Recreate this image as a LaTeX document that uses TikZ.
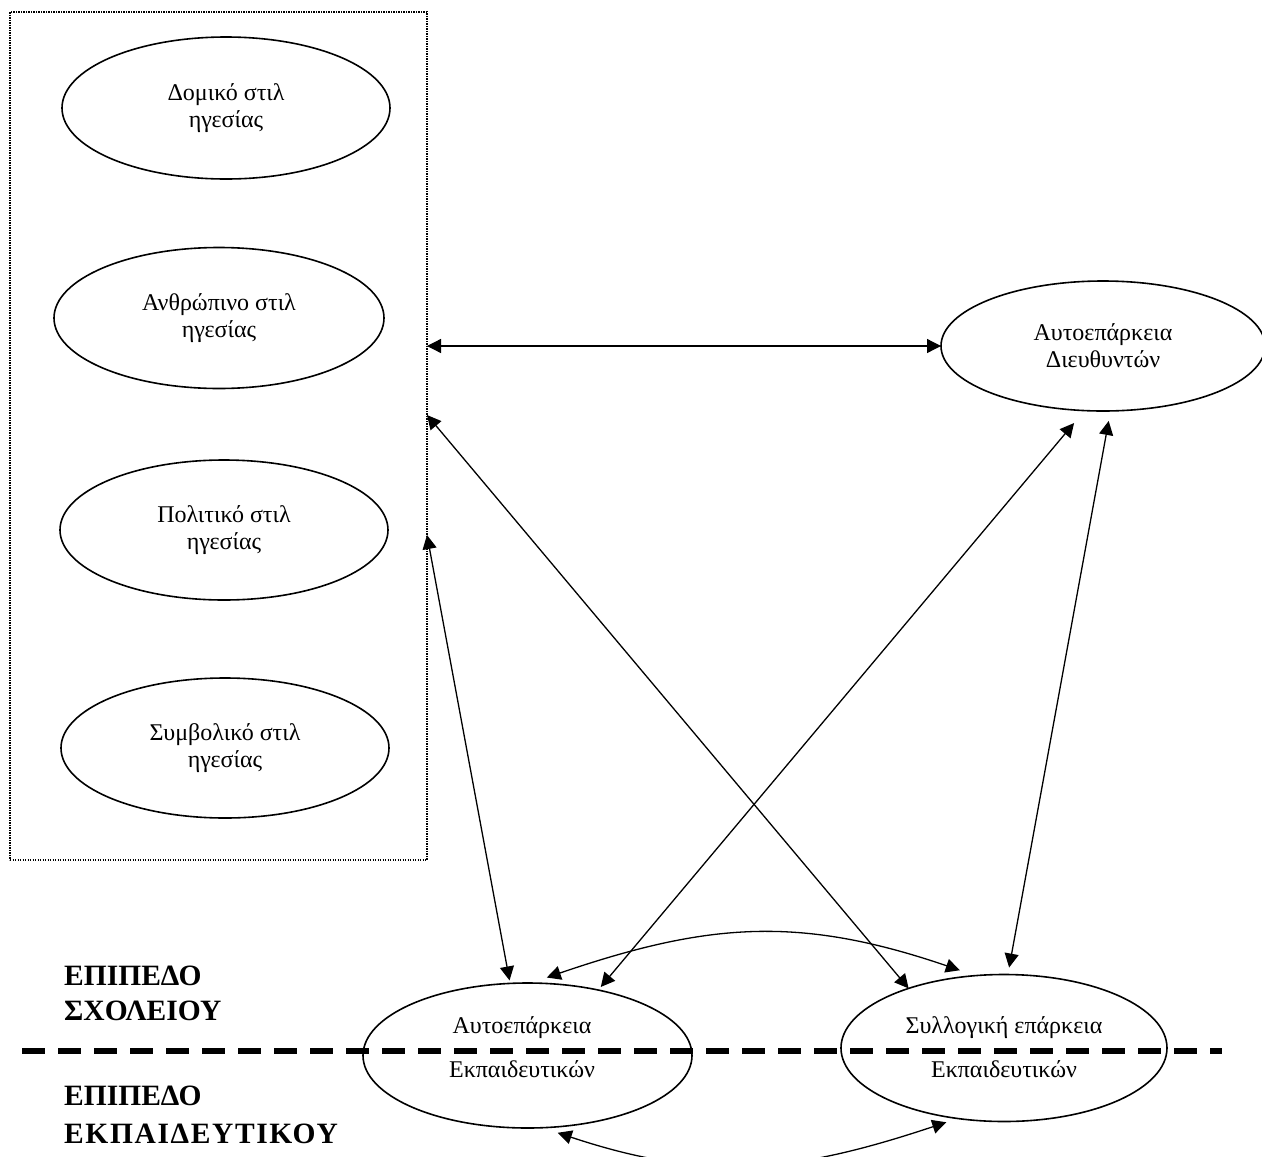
\documentclass[tikz,border=0pt]{standalone}
\usepackage{fontspec}
\setmainfont{Liberation Serif}
\usetikzlibrary{shapes.geometric, arrows.meta, calc}

\begin{document}
\begin{tikzpicture}[x=1pt, y=-1pt,
  oval/.style={ellipse, draw, line width=1.6pt, inner sep=0pt, outer sep=0pt,
    align=center, font=\fontsize{24}{27}\selectfont},
  txt/.style={anchor=base, inner sep=0pt, font=\fontsize{24}{27}\selectfont},
  link/.style={line width=1.3pt,
    {Triangle[length=14pt,width=14pt]}-{Triangle[length=14pt,width=14pt]}},
  level/.style={anchor=base west, inner sep=0pt, font=\fontsize{29.5}{35}\selectfont\bfseries},
  groupbox/.style={draw, line width=1.2pt, dash pattern=on 1.2pt off 1.3pt,
    inner sep=0pt, outer sep=0pt},
  levelline/.style={line width=6.5pt, dash pattern=on 23pt off 13pt}
]
\useasboundingbox (0,0) rectangle (1262,1157);

% group of leadership styles
\node[groupbox, minimum width=417pt, minimum height=848pt] (box) at (218.5,436) {};
\node[oval, minimum width=328pt, minimum height=142pt] (dom) at (226,108) {Δομικό στιλ\\ηγεσίας};
\node[oval, minimum width=330pt, minimum height=141pt] (anth) at (219,318) {Ανθρώπινο στιλ\\ηγεσίας};
\node[oval, minimum width=328pt, minimum height=140pt] (pol) at (224,530) {Πολιτικό στιλ\\ηγεσίας};
\node[oval, minimum width=328pt, minimum height=140pt] (sym) at (225,748) {Συμβολικό στιλ\\ηγεσίας};

% principals' self-efficacy
\node[oval, minimum width=324pt, minimum height=130pt] (dir) at (1103,346) {Αυτοεπάρκεια\\Διευθυντών};

% level separator
\coordinate (dl) at (22,1051);
\coordinate (dr) at (1222,1051);
\draw[levelline] (dl) -- (dr);

% teacher-level ellipses
\node[oval, minimum width=329pt, minimum height=145pt] (tse) at (527.5,1055.5) {};
\node[txt] (tse1) at (522,1033) {Αυτοεπάρκεια};
\node[txt] (tse2) at (522,1077) {Εκπαιδευτικών};
\node[oval, minimum width=326pt, minimum height=147pt] (col) at (1004,1048) {};
\node[txt] (col1) at (1004,1033) {Συλλογική επάρκεια};
\node[txt] (col2) at (1004,1077) {Εκπαιδευτικών};

% level labels
\node[level] (lvA1) at (64,985) {ΕΠΙΠΕΔΟ};
\node[level] (lvA2) at (64,1020) {ΣΧΟΛΕΙΟΥ};
\node[level] (lvB1) at (64,1105) {ΕΠΙΠΕΔΟ};
\node[level] (lvB2) at (64,1143) {\addfontfeature{LetterSpace=5.5}ΕΚΠΑΙΔΕΥΤΙΚΟΥ};

% connectors
\draw[link] (box.east |- dir.west) -- (dir.west);
\draw[link] ([yshift=21pt]box.east) -- (col.148);
\draw[link] ([yshift=-99pt]box.east) -- ([yshift=3pt]tse.104);
\draw[link] ([shift={(-8pt,-12.6pt)}]dir.-108.7) -- ([shift={(3pt,3pt)}]tse.43);
\draw[link] ([yshift=-10pt]dir.-85) -- ([yshift=7pt]col.86);
\draw[link] ([yshift=6pt]tse.75) .. controls +(161,-55) and +(-161,-55) .. ([yshift=7pt]col.122);
\draw[link] ([yshift=-6pt]tse.-67.5) .. controls +(150,50) and +(-150,50) .. ([yshift=-5.5pt]col.-130.7);
\end{tikzpicture}
\end{document}
